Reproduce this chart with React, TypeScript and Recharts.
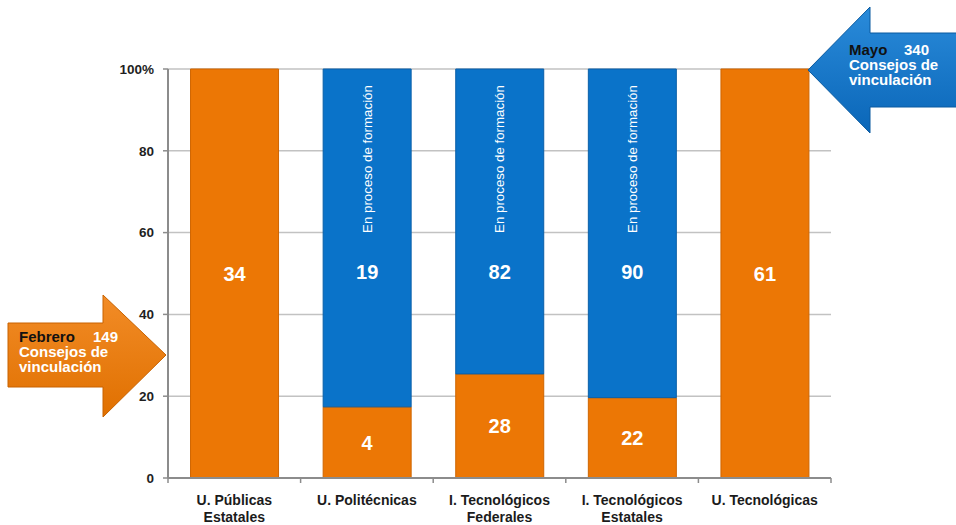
import { BarChart, Bar, XAxis, YAxis, CartesianGrid, LabelList } from "recharts";

const categories = [
  "U. Públicas\nEstatales",
  "U. Politécnicas",
  "I. Tecnológicos\nFederales",
  "I. Tecnológicos\nEstatales",
  "U. Tecnológicas",
];
const integrated = [34, 4, 28, 22, 61];
const inProcess = [0, 19, 82, 90, 0];
const yTicks = [0, 20, 40, 60, 80, 100];
const inProcessNote = "En proceso de formación";

const data = categories.map((name, i) => ({
  name,
  integrated: integrated[i],
  inProcess: inProcess[i],
}));

const ORANGE = "#EC7705";
const BLUE = "#0A73C9";
const AXIS = "#8c8c8c";
const FONT = "'Liberation Sans', Arial, sans-serif";

// label plus a small tick mark at the right edge of each category band
const CategoryTick = (props: any) => {
  const { x, y, payload, width, visibleTicksCount, index } = props;
  const half = width && visibleTicksCount ? width / visibleTicksCount / 2 : 0;
  const lines = String(payload.value).split("\n");
  return (
    <g>
      {half > 0 && (
        <line x1={x + half} x2={x + half} y1={y} y2={y + 5} stroke={AXIS} strokeWidth={1.5} />
      )}
      {half > 0 && index === 0 && (
        <line x1={x - half} x2={x - half} y1={y} y2={y + 5} stroke={AXIS} strokeWidth={1.5} />
      )}
      <text x={x} y={y} textAnchor="middle" fill="#1b1b1b" fontSize={14} fontWeight="bold" fontFamily={FONT}>
        {lines.map((line, i) => (
          <tspan key={i} x={x} dy={i === 0 ? 27 : 17}>
            {line}
          </tspan>
        ))}
      </text>
    </g>
  );
};

const BlueLabel = (props: any) => {
  const { x, y, width, value } = props;
  if (!value) return null;
  const cx = x + width / 2;
  return (
    <g fontFamily={FONT} fill="#fff">
      <text
        x={cx}
        y={y + 90}
        textAnchor="middle"
        dominantBaseline="central"
        fontSize={13.3}
        transform={`rotate(-90 ${cx} ${y + 90})`}
      >
        {inProcessNote}
      </text>
      <text x={cx} y={y + 203} textAnchor="middle" dominantBaseline="central" fontSize={20} fontWeight="bold">
        {value}
      </text>
    </g>
  );
};

const App = () => {
  return (
    <div style={{ position: "absolute", left: 0, top: 0, width: 956, height: 525, background: "#fff", fontFamily: FONT }}>
      <BarChart
        width={956}
        height={525}
        data={data}
        stackOffset="expand"
        barCategoryGap="17%"
        margin={{ top: 69, right: 125, bottom: 0, left: 108 }}
      >
        <CartesianGrid vertical={false} stroke="#c2c2c2" strokeWidth={1.5} />
        <XAxis
          dataKey="name"
          interval={0}
          height={47}
          tickLine={false}
          tickSize={0}
          tickMargin={0}
          axisLine={{ stroke: AXIS, strokeWidth: 2 }}
          tick={<CategoryTick />}
        />
        <YAxis
          type="number"
          domain={[0, 1]}
          ticks={yTicks.map((t) => t / 100)}
          tickFormatter={(v: number) => (v === 1 ? "100%" : String(Math.round(v * 100)))}
          width={60}
          axisLine={{ stroke: AXIS, strokeWidth: 2 }}
          tickLine={{ stroke: AXIS, strokeWidth: 1.5 }}
          tickSize={5}
          tickMargin={9}
          tick={{ fill: "#1f1f1f", fontSize: 13.5, fontWeight: "bold", fontFamily: FONT }}
        />
        <Bar dataKey="integrated" stackId="a" fill={ORANGE} stroke="#cf6500" strokeWidth={1} isAnimationActive={false}>
          <LabelList
            dataKey="integrated"
            position="center"
            fill="#fff"
            fontSize={20}
            fontWeight="bold"
            fontFamily={FONT}
          />
        </Bar>
        <Bar dataKey="inProcess" stackId="a" fill={BLUE} stroke="#0a5fa8" strokeWidth={1} isAnimationActive={false}>
          <LabelList dataKey="inProcess" content={<BlueLabel />} />
        </Bar>
      </BarChart>

      <svg width={956} height={525} style={{ position: "absolute", left: 0, top: 0, pointerEvents: "none" }}>
        <defs>
          <linearGradient id="orangeArrow" x1="0" y1="0" x2="0" y2="1">
            <stop offset="0%" stopColor="#F28C27" />
            <stop offset="100%" stopColor="#E07000" />
          </linearGradient>
          <linearGradient id="blueArrow" x1="0" y1="0" x2="0" y2="1">
            <stop offset="0%" stopColor="#2A8BDA" />
            <stop offset="100%" stopColor="#0A66B8" />
          </linearGradient>
        </defs>
        <polygon
          points="8,323 103,323 103,295 166,355 103,417 103,387 8,387"
          fill="url(#orangeArrow)"
          stroke="#c86200"
          strokeWidth={1}
        />
        <text fontFamily={FONT} fontWeight="bold" fontSize={15}>
          <tspan x={19} y={342} fill="#111">Febrero</tspan>
          <tspan x={93} y={342} fill="#fff">149</tspan>
          <tspan x={19} y={357} fill="#fff">Consejos de</tspan>
          <tspan x={19} y={372} fill="#fff">vinculación</tspan>
        </text>
        <polygon
          points="960,33 870,33 870,7 808,70 870,133 870,107 960,107"
          fill="url(#blueArrow)"
          stroke="#0a5aa0"
          strokeWidth={1}
        />
        <text fontFamily={FONT} fontWeight="bold" fontSize={15}>
          <tspan x={849} y={55} fill="#111">Mayo</tspan>
          <tspan x={904} y={55} fill="#fff">340</tspan>
          <tspan x={849} y={70} fill="#fff">Consejos de</tspan>
          <tspan x={849} y={85} fill="#fff">vinculación</tspan>
        </text>
      </svg>
    </div>
  );
};

export default App;
